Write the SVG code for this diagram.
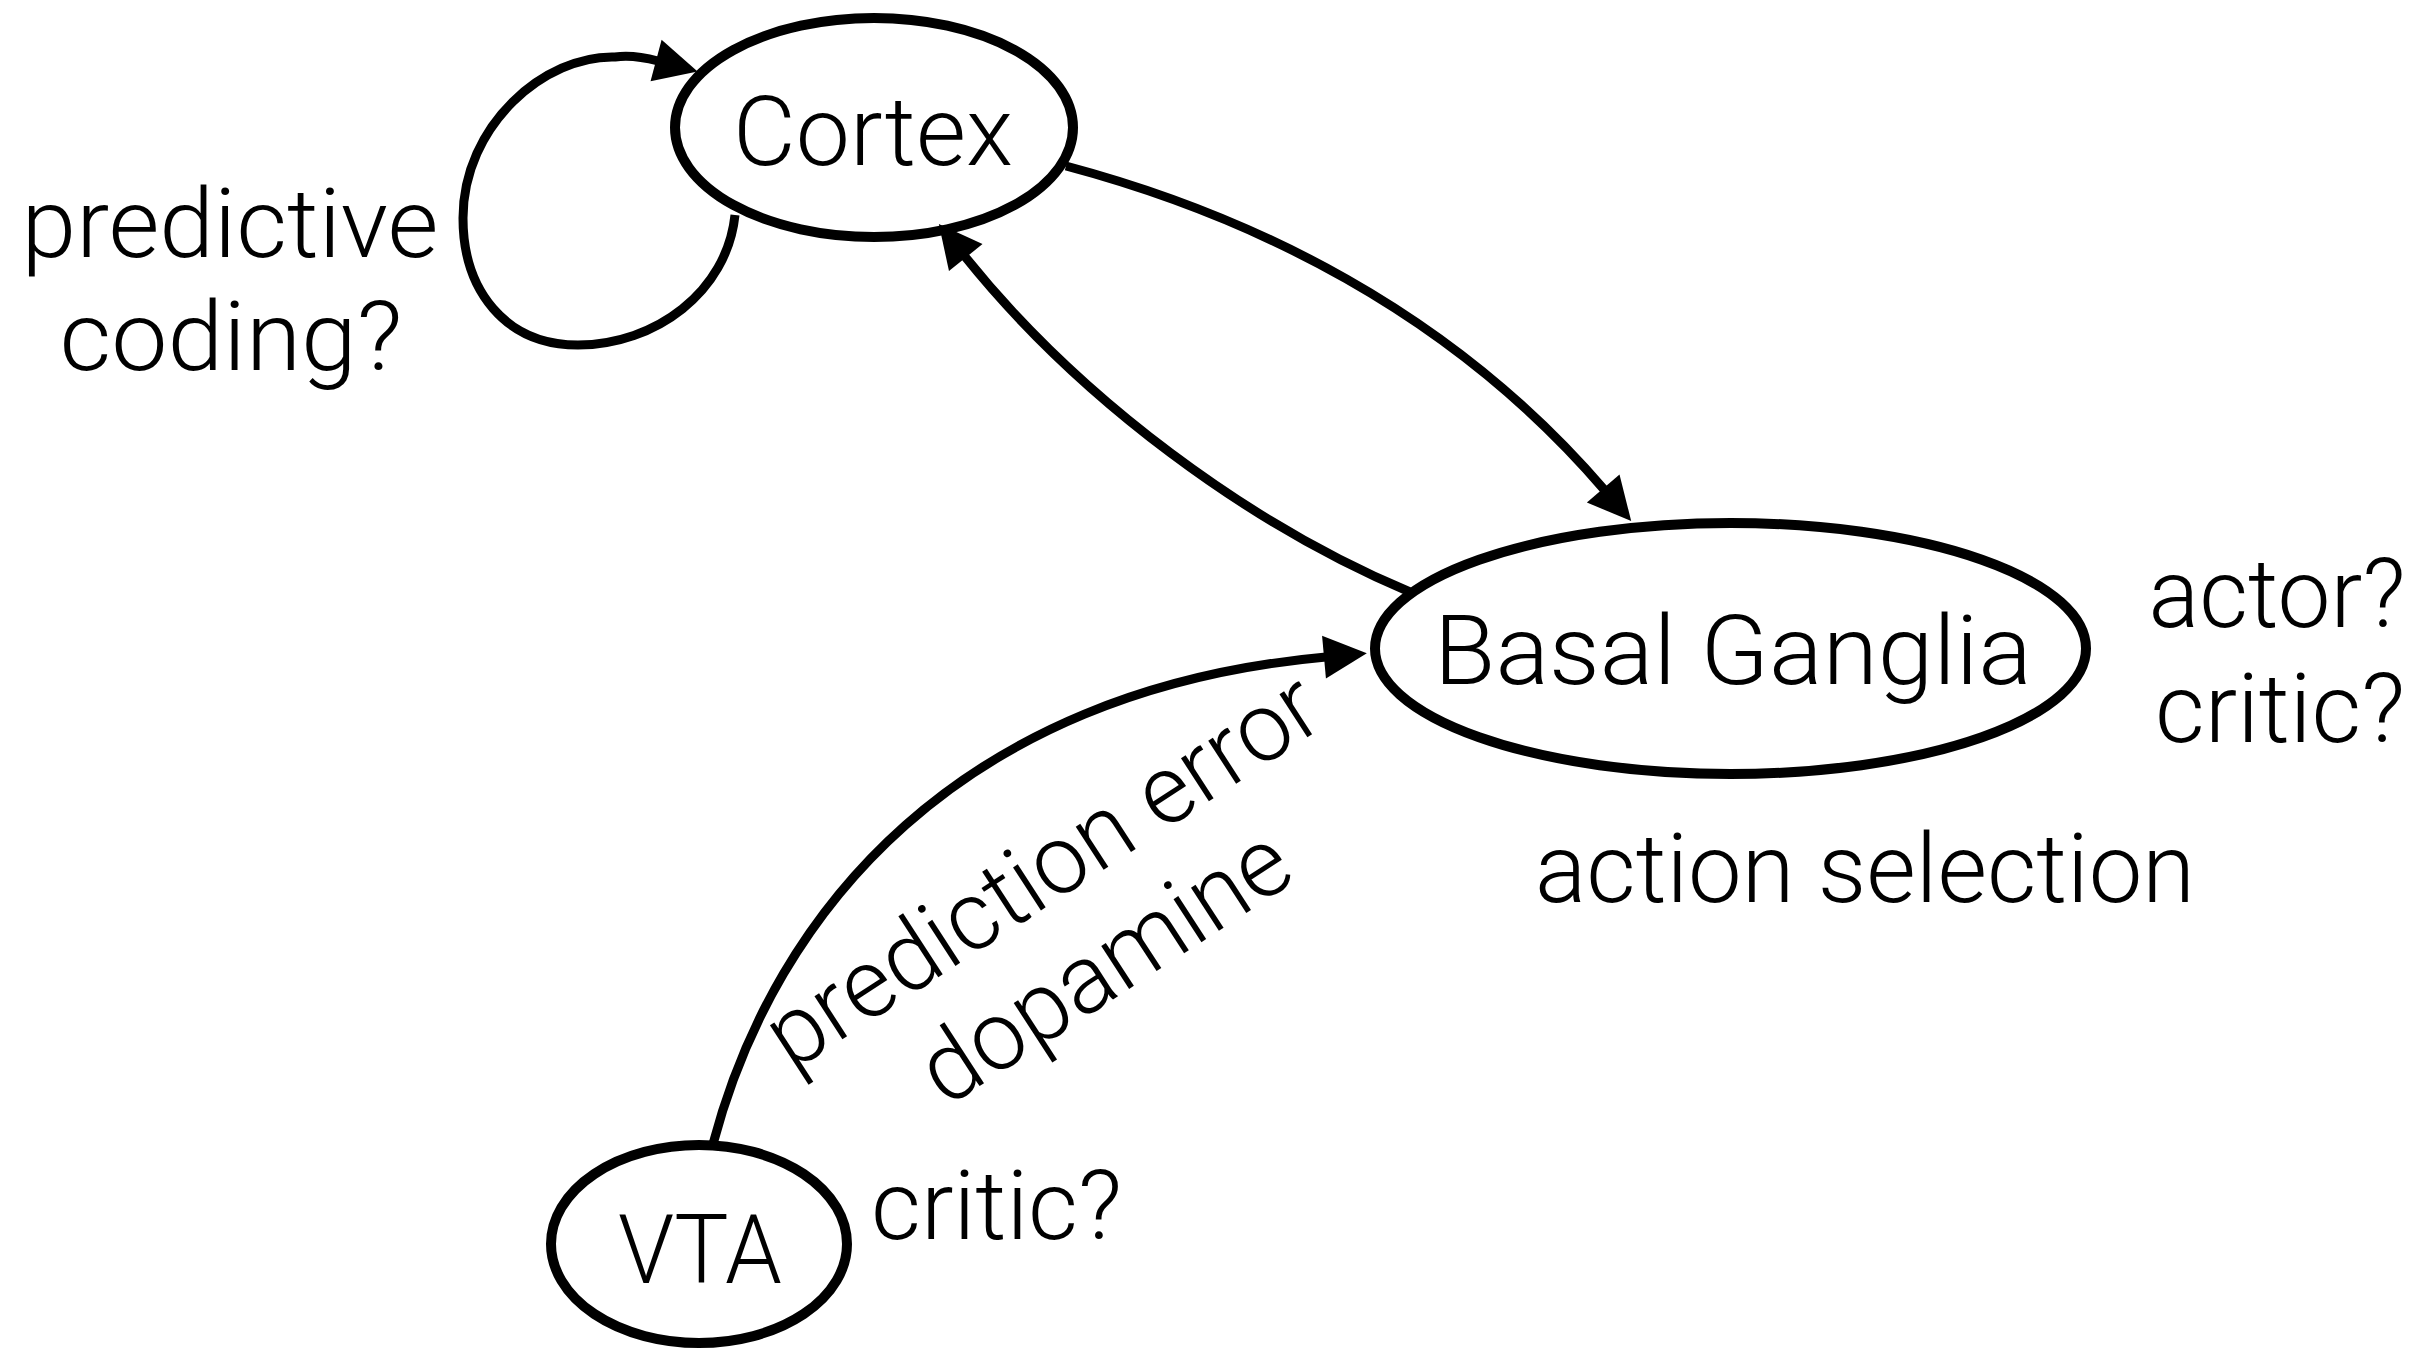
<svg xmlns="http://www.w3.org/2000/svg" width="2436" height="1350" viewBox="0 0 2436 1350">
<style>
.node{fill:#fff;stroke:#000;stroke-width:10}
.edge{fill:none;stroke:#000;stroke-width:9;marker-end:url(#arrow)}
text{font-family:Roboto,"Liberation Sans",Arial,sans-serif;font-weight:300;font-size:97px;fill:#000}
.c{text-anchor:middle}
</style>
<defs>
<marker id="arrow" markerUnits="userSpaceOnUse" markerWidth="50" markerHeight="50" refX="2" refY="21.5" orient="auto" overflow="visible">
<path d="M0,0 L43,21.5 L0,43 z" fill="#000"/>
</marker>
</defs>
<rect width="2436" height="1350" fill="#fff"/>
<g id="cortex">
<ellipse class="node" cx="874" cy="127.5" rx="199" ry="109.5"/>
<text class="c" x="873" y="165" textLength="280" lengthAdjust="spacingAndGlyphs">Cortex</text>
</g>
<g id="basal-ganglia">
<ellipse class="node" cx="1730.5" cy="648.5" rx="355.5" ry="125.5"/>
<text class="c" x="1733" y="684" textLength="598" lengthAdjust="spacingAndGlyphs">Basal Ganglia</text>
</g>
<g id="vta">
<ellipse class="node" cx="699" cy="1244" rx="148" ry="99"/>
<text class="c" x="700" y="1283" textLength="164" lengthAdjust="spacingAndGlyphs">VTA</text>
</g>
<g id="connectors">
<path class="edge" d="M735 215 C727 292 655 345 578 345 C505 345 463 290 463 218 C463 125 545 55 615 57 C628 55 643 57 658 61"/>
<path class="edge" d="M1066 166 C1250 215 1450 310 1604.5 490"/>
<path class="edge" d="M1410 592 C1250 525 1080 400 964.5 256"/>
<path class="edge" d="M713 1144 C775 910 960 690 1326 657"/>
</g>
<g id="labels">
<text class="c" x="230" y="257" textLength="417" lengthAdjust="spacingAndGlyphs">predictive</text>
<text class="c" x="231" y="370" textLength="343" lengthAdjust="spacingAndGlyphs">coding?</text>
<text class="c" x="2277" y="627" textLength="257" lengthAdjust="spacingAndGlyphs">actor?</text>
<text class="c" x="2280" y="742" textLength="250" lengthAdjust="spacingAndGlyphs">critic?</text>
<text class="c" x="1865" y="902" textLength="660" lengthAdjust="spacingAndGlyphs">action selection</text>
<text x="871" y="1239" textLength="251" lengthAdjust="spacingAndGlyphs">critic?</text>
<text class="c" x="1060" y="898" transform="rotate(-33 1060 898)" textLength="640" lengthAdjust="spacingAndGlyphs">prediction error</text>
<text class="c" x="1060" y="1012" transform="rotate(-33 1060 898)" textLength="421" lengthAdjust="spacingAndGlyphs">dopamine</text>
</g>
</svg>
